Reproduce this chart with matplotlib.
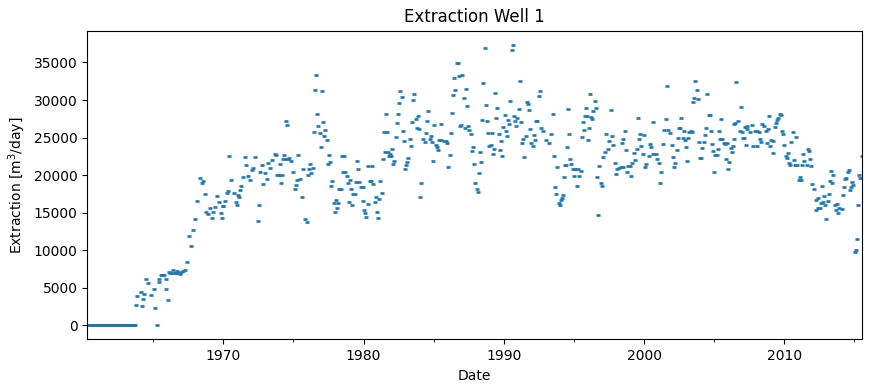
"""
Extraction Well 1: monthly extraction rate, 1960-2015.
Output: out.png
"""
import numpy as np
import matplotlib
matplotlib.use('Agg')
import matplotlib.pyplot as plt
from matplotlib.ticker import MultipleLocator

# well not yet pumping: monthly records of zero extraction (Apr 1960 onwards)
zero_dates = 1960.30 + np.arange(42) / 12
zero_vals = np.zeros(len(zero_dates))

dates_1960s = [1963.78, 1963.88, 1964.11, 1964.18, 1964.25, 1964.35, 1964.50, 1964.60, 1964.87,
               1965.03, 1965.10, 1965.25, 1965.38, 1965.45, 1965.55, 1965.63, 1965.72, 1965.80,
               1965.88, 1965.92, 1966.03, 1966.10, 1966.20, 1966.30, 1966.40, 1966.50, 1966.60,
               1966.70, 1966.80, 1966.90, 1967.00, 1967.10, 1967.27, 1967.41, 1967.55, 1967.70,
               1967.84, 1967.98, 1968.12, 1968.34, 1968.48, 1968.55, 1968.70, 1968.77, 1968.91,
               1969.05, 1969.19, 1969.26, 1969.41, 1969.55, 1969.69, 1969.84, 1969.91, 1969.97]
ext_1960s = [2670, 3870, 4400, 2540, 3470, 4140, 6140, 5610, 4000,
             4800, 2270, 0, 5740, 6140, 6680, 6680, 6680, 6680,
             6140, 4800, 3340, 7100, 7000, 6900, 7300, 7000, 6900,
             7200, 7000, 6850, 7100, 7200, 7350, 8400, 11900, 10550,
             12700, 14160, 16560, 19640, 18970, 19200, 17500, 15100, 14830,
             15630, 14300, 15100, 15760, 17230, 16430, 14960, 14300, 15900]

dates_1970s = [1970.00, 1970.12, 1970.26, 1970.34, 1970.41, 1970.55, 1970.76, 1970.88, 1970.95,
               1971.05, 1971.12, 1971.19, 1971.26, 1971.40, 1971.55, 1971.62, 1971.76, 1971.90,
               1972.05, 1972.15, 1972.26, 1972.47, 1972.54, 1972.62, 1972.76, 1972.80, 1972.97,
               1973.12, 1973.19, 1973.33, 1973.47, 1973.69, 1973.76, 1973.83,
               1974.00, 1974.04, 1974.11, 1974.19, 1974.26, 1974.33, 1974.45, 1974.50, 1974.55,
               1974.61, 1974.70, 1974.80, 1974.97,
               1975.11, 1975.18, 1975.25, 1975.32, 1975.47, 1975.61, 1975.65, 1975.83, 1975.97,
               1976.04, 1976.08, 1976.15, 1976.24, 1976.38, 1976.47, 1976.54, 1976.59, 1976.66,
               1976.78, 1976.90, 1976.97,
               1977.04, 1977.09, 1977.18, 1977.25, 1977.38, 1977.45, 1977.54, 1977.61, 1977.68,
               1977.78, 1977.90, 1977.97,
               1978.04, 1978.09, 1978.16, 1978.27, 1978.40, 1978.49, 1978.54, 1978.61, 1978.68,
               1978.80, 1978.89, 1978.94,
               1979.04, 1979.11, 1979.16, 1979.27, 1979.39, 1979.44, 1979.54, 1979.61, 1979.66,
               1979.84, 1979.94, 1979.96]
ext_1970s = [15900, 16560, 17630, 17900, 22580, 19370, 17630, 16400, 16000,
             17370, 17100, 18030, 18570, 19770, 22440, 21370, 19900, 19370,
             20700, 21000, 22440, 13890, 16030, 20440, 21370, 18840, 20300,
             19500, 21640, 21000, 22040, 22840, 22700, 20040,
             20040, 21500, 18970, 20040, 22170, 22700, 22170, 27200, 26700,
             22170, 22300, 21900, 20440,
             18170, 18700, 19370, 22700, 19500, 17100, 20840, 14160, 13760,
             20040, 20800, 21470, 20260, 20930, 25740, 31350, 33350, 28150,
             26540, 25600, 23740,
             31200, 27080, 25200, 26000, 24670, 21470, 22670, 21730, 18530,
             19200, 16260, 15060,
             16660, 15600, 16260, 18170, 18170, 22570, 20440, 22570, 20440,
             19870, 18930, 16400,
             19330, 18130, 16000, 17460, 17460, 19060, 21870, 20800, 19060,
             18400, 18400, 16530]

dates_1980s = [1980.01, 1980.11, 1980.20, 1980.32, 1980.34, 1980.44, 1980.53, 1980.61, 1980.70,
               1980.82, 1980.89, 1980.96,
               1981.03, 1981.11, 1981.20, 1981.32, 1981.39, 1981.46, 1981.53, 1981.60, 1981.70,
               1981.77, 1981.82, 1981.89, 1981.96,
               1982.03, 1982.10, 1982.19, 1982.31, 1982.39, 1982.46, 1982.53, 1982.60, 1982.74,
               1982.81, 1982.88, 1982.96,
               1983.03, 1983.10, 1983.19, 1983.31, 1983.38, 1983.45, 1983.53, 1983.62, 1983.74,
               1983.81, 1983.88, 1983.95,
               1984.03, 1984.12, 1984.26, 1984.38, 1984.45, 1984.53, 1984.62, 1984.74, 1984.81,
               1984.88, 1984.96,
               1985.03, 1985.17, 1985.24, 1985.31, 1985.38, 1985.52, 1985.55, 1985.74, 1985.86,
               1985.96,
               1986.03, 1986.17, 1986.24, 1986.31, 1986.38, 1986.45, 1986.52, 1986.67, 1986.74,
               1986.81, 1986.88, 1986.95,
               1987.02, 1987.14, 1987.23, 1987.30, 1987.38, 1987.43, 1987.52, 1987.66, 1987.73,
               1987.80, 1987.88, 1987.95,
               1988.07, 1988.16, 1988.23, 1988.30, 1988.37, 1988.42, 1988.52, 1988.66, 1988.73,
               1988.80, 1988.87, 1988.92,
               1989.08, 1989.13, 1989.20, 1989.29, 1989.36, 1989.43, 1989.55, 1989.64, 1989.72,
               1989.79, 1989.84, 1989.93]
ext_1980s = [15330, 14930, 14400, 16130, 21200, 19240, 19240, 21200, 18800,
             16400, 17060, 15060,
             14260, 16800, 19200, 17600, 22130, 25740, 23070, 28150, 25740,
             23070, 22540, 22800, 22540,
             23470, 21470, 21870, 25070, 26940, 28150, 29620, 31220, 30420,
             25870, 24540, 20800,
             21330, 21730, 22270, 24810, 23870, 27080, 30020, 30820, 27480,
             26280, 27880, 26140,
             17060, 18930, 24810, 24410, 25600, 27210, 28550, 24810, 25200,
             24410, 21870,
             26680, 24000, 23740, 23340, 24670, 24670, 26810, 24540, 24540,
             24270,
             21070, 22670, 25600, 28280, 30690, 32960, 31350, 34900, 34900,
             33200, 26540, 26670,
             33350, 30280, 26280, 31480, 29210, 26540, 26000, 25470, 23200,
             23740, 21470, 18930,
             18130, 17730, 20260, 23070, 21730, 27350, 32290, 36960, 29350,
             27210, 25600, 23900,
             23950, 25580, 22800, 23470, 30950, 27610, 28950, 25470, 23340,
             24540, 22540, 26410]

dates_1990s = [1990.09, 1990.16, 1990.23, 1990.30, 1990.37, 1990.44, 1990.58, 1990.66, 1990.73,
               1990.80, 1990.87, 1990.94,
               1991.08, 1991.16, 1991.23, 1991.30, 1991.37, 1991.46, 1991.56, 1991.65, 1991.75,
               1991.80, 1991.87, 1991.96,
               1992.08, 1992.15, 1992.22, 1992.30, 1992.37, 1992.49, 1992.58, 1992.65, 1992.80,
               1993.03, 1993.22, 1993.34, 1993.49, 1993.56, 1993.65, 1993.72, 1993.79, 1993.94,
               1994.01, 1994.06, 1994.13, 1994.20, 1994.29, 1994.36, 1994.43, 1994.48, 1994.55,
               1994.62, 1994.70, 1994.79, 1994.93,
               1995.00, 1995.07, 1995.19, 1995.29, 1995.38, 1995.50, 1995.57, 1995.64, 1995.71,
               1995.78, 1995.85, 1995.90,
               1996.00, 1996.05, 1996.14, 1996.23, 1996.28, 1996.38, 1996.50, 1996.57, 1996.64,
               1996.71, 1996.80, 1996.92, 1996.99,
               1997.09, 1997.21, 1997.28, 1997.42, 1997.52, 1997.63, 1997.70, 1997.79, 1997.91,
               1997.98,
               1998.06, 1998.20, 1998.34, 1998.41, 1998.48, 1998.53, 1998.62, 1998.69, 1998.78,
               1998.88,
               1999.00, 1999.04, 1999.14, 1999.26, 1999.38, 1999.47, 1999.54, 1999.61, 1999.71,
               1999.78, 1999.90]
ext_1990s = [28010, 25870, 25200, 27340, 26810, 29880, 36700, 37360, 27880,
             27210, 26540, 27610,
             28810, 32560, 27080, 24270, 24810, 22400, 25200, 29750, 29480,
             28680, 26140, 24270,
             23870, 25340, 24670, 27180, 27180, 30550, 31220, 26280, 25870,
             24670, 24270, 25470, 28150, 22540, 18400, 17460, 21070, 16260,
             16000, 16660, 16930, 17330, 19730, 21330, 21330, 23740, 28810,
             25470, 22130, 21470, 20800,
             19870, 20800, 18530, 20800, 19870, 20530, 25070, 27080, 26000,
             27880, 28950, 27880,
             24670, 26280, 30820, 27750, 27480, 28550, 29880, 28950, 19730,
             14650, 21200, 18930, 18530,
             22400, 23070, 25470, 23470, 24500, 28680, 25200, 24000, 21600,
             20130,
             20840, 20930, 21070, 24270, 21070, 24810, 25870, 23340, 20400,
             21200,
             21200, 19870, 21600, 22940, 22000, 23470, 27610, 24810, 25470,
             23870, 22800]

dates_2000s = [2000.00, 2000.07, 2000.16, 2000.36, 2000.43, 2000.50, 2000.62, 2000.64, 2000.83,
               2000.95,
               2001.05, 2001.14, 2001.21, 2001.33, 2001.43, 2001.57, 2001.64, 2001.71, 2001.83,
               2001.99,
               2002.04, 2002.11, 2002.21, 2002.35, 2002.42, 2002.47, 2002.57, 2002.64, 2002.76,
               2002.83, 2002.92, 2002.99,
               2003.06, 2003.14, 2003.19, 2003.35, 2003.44, 2003.47, 2003.57, 2003.64, 2003.76,
               2003.83, 2003.92, 2003.99,
               2004.06, 2004.13, 2004.26, 2004.37, 2004.40, 2004.49, 2004.61, 2004.71, 2004.76,
               2004.85, 2004.92, 2004.99,
               2005.06, 2005.23, 2005.28, 2005.33, 2005.42, 2005.47, 2005.56, 2005.68, 2005.78,
               2005.85, 2005.92, 2005.99,
               2006.04, 2006.18, 2006.25, 2006.35, 2006.42, 2006.44, 2006.51, 2006.56, 2006.72,
               2006.85, 2006.92, 2006.97,
               2007.04, 2007.15, 2007.17, 2007.27, 2007.32, 2007.37, 2007.56, 2007.70, 2007.75,
               2007.89,
               2008.04, 2008.08, 2008.20, 2008.25, 2008.34, 2008.39, 2008.58, 2008.70, 2008.75,
               2008.84, 2008.91, 2008.98,
               2009.05, 2009.17, 2009.22, 2009.34, 2009.41, 2009.48, 2009.57, 2009.67, 2009.76,
               2009.83, 2009.90, 2009.95]
ext_2000s = [25340, 21070, 21470, 22540, 24140, 23740, 27080, 22800, 22800,
             22130,
             21600, 18930, 20400, 24140, 26000, 27480, 31890, 26000, 25600,
             24000,
             22400, 21070, 21600, 23340, 24900, 26250, 26250, 27610, 24900,
             25870, 24670, 23740,
             21870, 24900, 25700, 25870, 25700, 29750, 30280, 32560, 31350,
             30150, 24400, 22310,
             22270, 23600, 24400, 25340, 26280, 30820, 28010, 28010, 25870,
             24140, 23200, 20400,
             22670, 22670, 23470, 25870, 24810, 27480, 24810, 24270, 24140,
             22130, 24270, 20800,
             21730, 23600, 23070, 23870, 24810, 26810, 26940, 32420, 27210,
             25870, 29080, 25740,
             24940, 24940, 26410, 24000, 26540, 26140, 25740, 26680, 23870,
             25870,
             25870, 23870, 25740, 24810, 24410, 26810, 26540, 25870, 24270,
             26140, 27880, 23870,
             24670, 22940, 24540, 26410, 26940, 27350, 27610, 28150, 28010,
             25870, 25470, 24000]

dates_2010s = [2010.12, 2010.19, 2010.26, 2010.34, 2010.41, 2010.46, 2010.60, 2010.69, 2010.78,
               2010.81, 2010.91,
               2011.07, 2011.10, 2011.19, 2011.24, 2011.33, 2011.38, 2011.60, 2011.69, 2011.76,
               2011.83, 2011.90,
               2012.00, 2012.10, 2012.24, 2012.28, 2012.40, 2012.42, 2012.52, 2012.61, 2012.69,
               2012.76, 2012.83, 2012.92, 2012.99,
               2013.11, 2013.18, 2013.26, 2013.33, 2013.40, 2013.49, 2013.63, 2013.68, 2013.75,
               2013.82, 2013.92,
               2014.09, 2014.16, 2014.23, 2014.32, 2014.40, 2014.52, 2014.61, 2014.68, 2014.75,
               2014.82, 2014.91,
               2015.03, 2015.10, 2015.17, 2015.24, 2015.31, 2015.38, 2015.52]
ext_2010s = [22540, 22270, 22940, 21600, 21330, 24410, 25740, 22000, 21330,
             25070, 21330,
             19330, 19730, 19330, 21330, 22800, 21870, 21330, 23470, 23200,
             22130, 21200,
             18800, 18130, 16660, 15330, 16930, 15600, 15600, 16260, 18530,
             16400, 17190, 16000, 14130,
             16530, 17460, 19200, 20530, 18930, 20000, 16000, 15330, 16130,
             14930, 15600,
             15460, 17330, 18400, 19470, 19600, 20400, 20670, 18000, 18400,
             19060, 18660,
             9710, 9980, 11450, 16000, 20000, 19600, 22540]

dates = np.concatenate([zero_dates, dates_1960s, dates_1970s, dates_1980s,
                        dates_1990s, dates_2000s, dates_2010s])
extraction = np.concatenate([zero_vals, ext_1960s, ext_1970s, ext_1980s,
                             ext_1990s, ext_2000s, ext_2010s])

fig = plt.figure(figsize=(8.71, 3.92), dpi=100)
ax = fig.add_axes([0.1002, 0.1344, 0.8891, 0.7872])
ax.plot(dates, extraction, linestyle='none', marker='_', ms=3.5, mew=1.9, color='#1f77b4')

ax.set_xlim(dates.min(), dates.max())
ax.xaxis.set_major_locator(MultipleLocator(10))
ax.xaxis.set_minor_locator(MultipleLocator(5))
ax.xaxis.set_major_formatter(lambda v, pos: f'{v:.0f}')
ax.yaxis.set_major_locator(MultipleLocator(5000))

ax.set_title('Extraction Well 1')
ax.set_xlabel('Date')
ax.set_ylabel('Extraction [m$^3$/day]')

fig.savefig('out.png', dpi=100)
